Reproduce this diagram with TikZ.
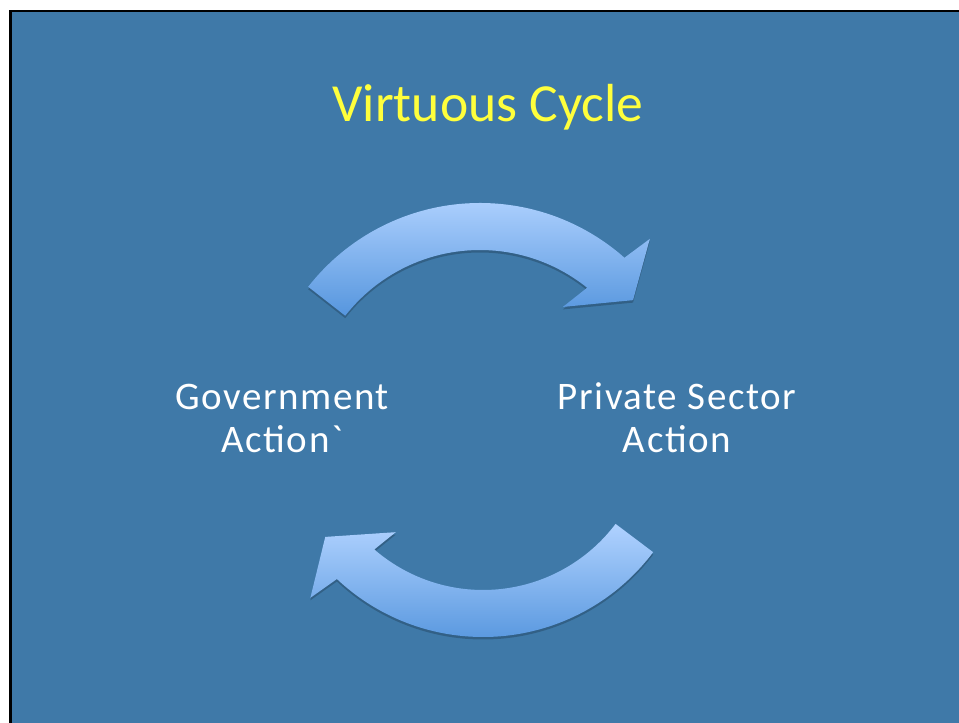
\documentclass[tikz,border=0pt]{standalone}
\usepackage{fontspec}
\setmainfont{Carlito}[Ligatures=TeXOff]
\newfontfamily\labelfont{Carlito}[Ligatures=TeXOff,LetterSpace=4]
\usetikzlibrary{calc,positioning}
\definecolor{slideblue}{RGB}{63,121,168}
\definecolor{arrowtop}{RGB}{176,210,255}
\definecolor{arrowbot}{RGB}{86,150,222}
\definecolor{titleyellow}{RGB}{255,255,60}

\begin{document}
\begin{tikzpicture}[x=1pt,y=1pt,
  cyclearrow/.style={shading=axis,top color=arrowtop,bottom color=arrowbot,
    preaction={fill=black,opacity=0.2,transform canvas={yshift=-2.5pt}}},
  label/.style={text=white,font=\labelfont\fontsize{39}{43}\selectfont,align=center}]
  \useasboundingbox (0,0) rectangle (959,723);
  % slide
  \fill[black] (9,0) rectangle (959,712.5);
  \fill[slideblue] (11.5,0) rectangle (959,710.5);

  % title
  \node[text=titleyellow,font=\fontsize{53.6}{60}\selectfont,anchor=base] (title) at (488,601) {Virtuous Cycle};

  % labels
  \node[label,anchor=base] (gov) at (282,270) {Government\\Action`};
  \node[label,anchor=base] (priv) at (677,270) {Private Sector\\Action};

  % circular arrows
  \coordinate (topc) at (480,302);
  \coordinate (botc) at (483,299);

  \path[cyclearrow] ($(topc)+(142:218)$) arc[start angle=142,end angle=48.5,radius=218]
    -- ($(topc)+(47:249)$) -- ($(topc)+(38.3:195)$) -- ($(topc)+(54:141)$)
    -- ($(topc)+(51.2:171)$) arc[start angle=51.2,end angle=142,radius=171] -- cycle;

  \path[cyclearrow] ($(botc)+(-37:213)$) arc[start angle=-37,end angle=-133.3,radius=213]
    -- ($(botc)+(-134.8:245)$) -- ($(botc)+(-144.4:194)$) -- ($(botc)+(-128.9:139)$)
    -- ($(botc)+(-130.9:166)$) arc[start angle=-130.9,end angle=-37,radius=166] -- cycle;
\end{tikzpicture}
\end{document}
